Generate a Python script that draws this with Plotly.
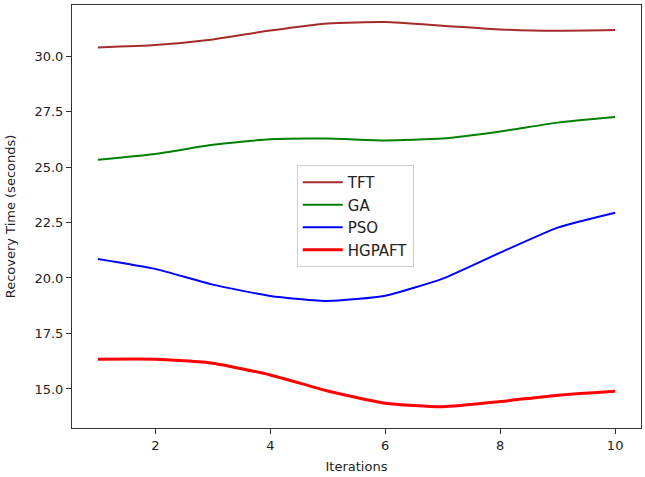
import plotly.graph_objects as go

iterations = [1, 2, 3, 4, 5, 6, 7, 8, 9, 10]
tft = [30.39, 30.50, 30.75, 31.15, 31.47, 31.53, 31.37, 31.20, 31.14, 31.17]
ga = [25.33, 25.59, 26.00, 26.25, 26.28, 26.20, 26.28, 26.60, 27.00, 27.25]
pso = [20.86, 20.41, 19.70, 19.19, 18.96, 19.20, 19.97, 21.14, 22.27, 22.94]
hgpaft = [16.34, 16.34, 16.16, 15.63, 14.91, 14.36, 14.20, 14.43, 14.72, 14.90]

series = [
    ("TFT", tft, "#a52a2a", 2),
    ("GA", ga, "#008000", 2),
    ("PSO", pso, "#0000ff", 2),
    ("HGPAFT", hgpaft, "#ff0000", 3),
]

fig = go.Figure()
for name, vals, color, w in series:
    fig.add_trace(go.Scatter(
        x=iterations, y=vals, mode="lines", name=name,
        line=dict(color=color, width=w, shape="spline", smoothing=0.5),
    ))

axis_common = dict(
    showgrid=False, zeroline=False, showline=True, linecolor="#333333",
    linewidth=1, mirror=True, ticks="outside", ticklen=5, tickcolor="#333333",
    tickfont=dict(size=13, color="#222222"),
)

fig.update_layout(
    width=645, height=477,
    margin=dict(l=72, r=4, t=5, b=49),
    paper_bgcolor="white", plot_bgcolor="white",
    font=dict(family="DejaVu Sans", size=13, color="#222222"),
    xaxis=dict(range=[0.55, 10.45], tickvals=[2, 4, 6, 8, 10],
               title=dict(text="Iterations", standoff=10, font=dict(size=13)), **axis_common),
    yaxis=dict(range=[13.24, 32.3], tickvals=[15, 17.5, 20, 22.5, 25, 27.5, 30],
               ticktext=["15.0", "17.5", "20.0", "22.5", "25.0", "27.5", "30.0"],
               title=dict(text="Recovery Time (seconds)", standoff=15, font=dict(size=13)), **axis_common),
    legend=dict(x=0.395, y=0.622, xanchor="left", yanchor="top",
                bgcolor="rgba(255,255,255,0.8)", bordercolor="#cccccc", borderwidth=1,
                font=dict(size=15), itemwidth=40, tracegroupgap=0),
    showlegend=True,
)

fig.write_html("out.html")
